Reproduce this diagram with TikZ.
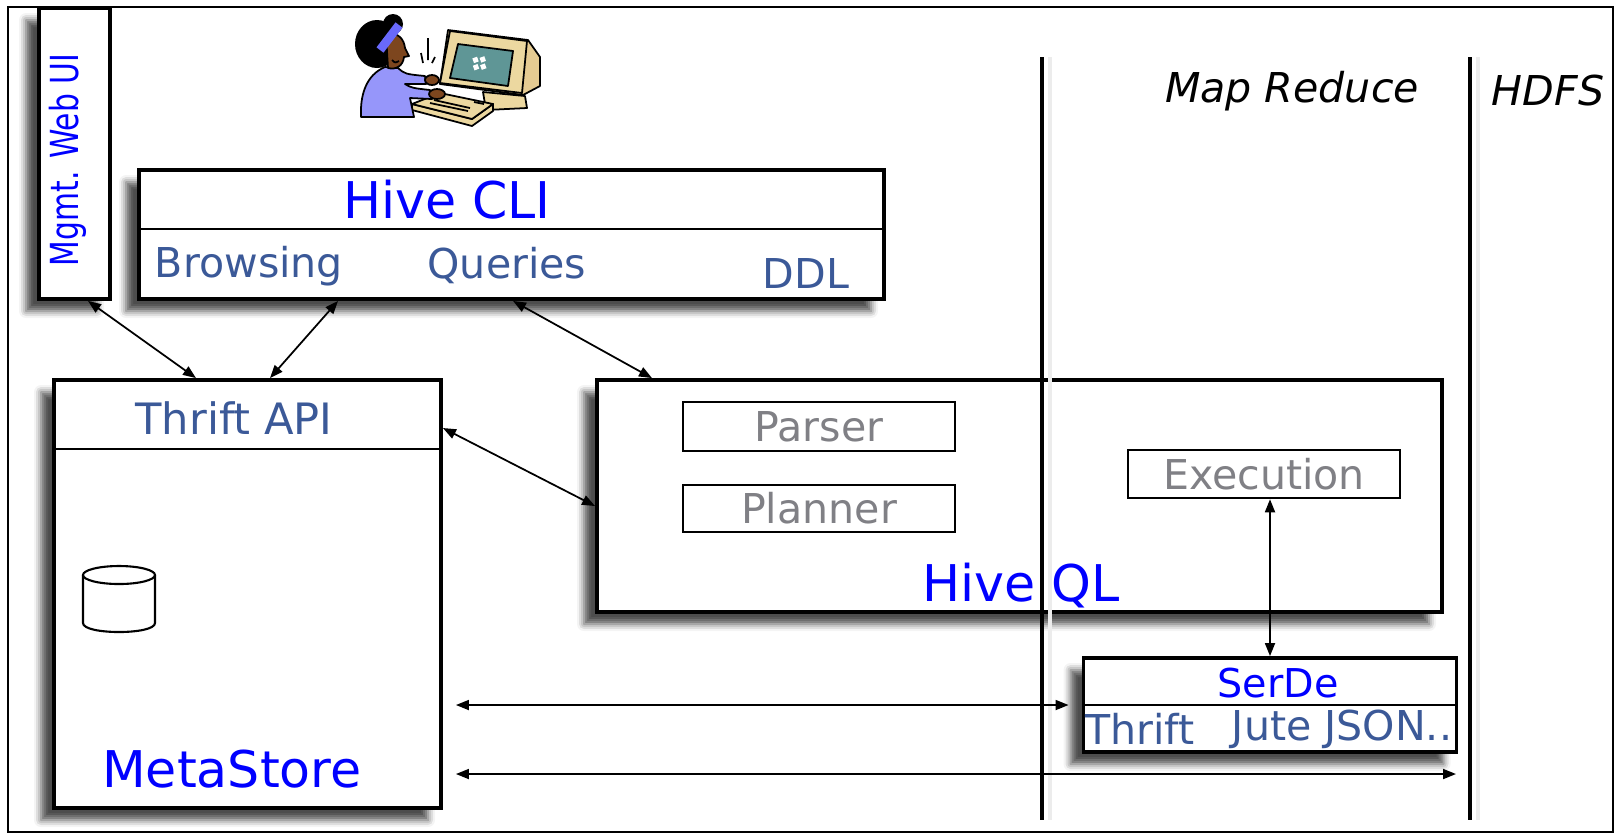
\documentclass[tikz,border=0pt]{standalone}
\usepackage{fontspec}
\setmainfont{DejaVu Sans}
\usetikzlibrary{arrows.meta, positioning, shadows.blur}

\definecolor{titleblue}{RGB}{0,0,255}
\definecolor{slateblue}{RGB}{59,89,152}
\definecolor{partgray}{RGB}{128,128,133}
\definecolor{skin}{RGB}{125,70,30}
\definecolor{shirt}{RGB}{150,150,250}
\definecolor{beige}{RGB}{236,216,160}
\definecolor{screen}{RGB}{95,150,150}

\begin{document}
\begin{tikzpicture}[x=0.1mm, y=-0.1mm,
    box/.style={draw, line width=1.1pt, fill=white, inner sep=0pt,
        blur shadow={shadow xshift=-1.3mm, shadow yshift=-1.2mm,
            shadow blur radius=0.7mm, shadow opacity=70}},
    part/.style={draw, line width=0.7pt, fill=white, inner sep=0pt,
        minimum width=27.2mm, text=partgray,
        font=\fontsize{11.7}{14}\selectfont},
    title/.style={text=titleblue, font=\fontsize{14.4}{17}\selectfont},
    sub/.style={text=slateblue, font=\fontsize{11.7}{14}\selectfont},
    layer/.style={font=\itshape\fontsize{11.7}{14}\selectfont},
    link/.style={{Triangle[length=1.3mm,width=1mm]}-{Triangle[length=1.3mm,width=1mm]},
        line width=0.5pt},
    sep/.style={line width=1.3pt},
    divider/.style={line width=0.6pt}]
    \useasboundingbox (0,0) rectangle (1618,835);

    % Outer frame
    \draw[line width=0.6pt] (8,7) rectangle (1613,832);

    % Person at the terminal
    \begin{scope}[line width=0.5pt, line join=round]
        % monitor
        \draw[fill=beige!85!brown] (448,30) -- (528,40) -- (540,57) -- (540,86) -- (523,95) -- (440,84) -- cycle;
        \draw[fill=beige] (483,92) -- (525,96) -- (527,108) -- (486,110) -- cycle;
        \draw[fill=beige] (450,31) -- (527,41) -- (522,93) -- (440,83) -- cycle;
        \draw[fill=screen] (458,44) -- (513,51) -- (508,86) -- (450,78) -- cycle;
        \foreach \dx/\dy in {0/0, 7/2, -2/7, 5/9}
            \fill[white, rotate around={20:(480,62)}] (474+\dx,56+\dy) rectangle +(5,5);
        % keyboard
        \draw[fill=beige] (412,104) -- (412,110) -- (472,126) -- (493,111) -- (493,104) -- (472,119) -- cycle;
        \draw[fill=beige] (412,104) -- (440,93) -- (493,104) -- (472,119) -- cycle;
        \draw (430,103) -- (468,111) (434,100) -- (470,108) (474,102) -- (484,104);
        % typing strokes
        \draw (421,53) -- (423,63) (428,38) -- (428,60) (435,57) -- (432,63);
        % body and arms
        \draw[fill=shirt] (361,117) .. controls (360,95) and (366,75) .. (385,67)
            -- (398,68) .. controls (405,74) .. (425,76) -- (426,84) -- (405,84)
            .. controls (412,88) .. (430,90) -- (432,99) -- (410,98)
            .. controls (412,108) .. (414,117) -- cycle;
        \draw[fill=skin] (432,80) ellipse (7 and 5);
        \draw[fill=skin] (437,94) ellipse (8 and 5);
        % head
        \fill (377,44) ellipse (22 and 24);
        \fill (393,24) circle (10);
        \draw[fill=skin] (386,35) .. controls (399,31) and (404,40) .. (405,48)
            -- (409,56) -- (404,57) .. controls (403,66) and (396,70) .. (388,68) -- cycle;
        \draw[shirt!70!blue, line width=2.5pt] (380,50) -- (399,25);
        \draw (392,60) .. controls (395,63) .. (399,61);
    \end{scope}

    % Management web UI
    \node[box, minimum width=7.1mm, minimum height=29.1mm] (webui) at (74.5,153.5) {};
    \node[title, rotate=90, font=\fontsize{11}{13}\selectfont] (webuitext) at (68,160)
        {\scalebox{0.77}[1]{Mgmt. Web UI}};

    % Hive CLI
    \node[box, minimum width=74.5mm, minimum height=12.9mm] (cli) at (511.5,234.5) {};
    \draw[divider] (cli.west |- 0,229) -- (cli.east |- 0,229);
    \node[title] (clitext) at (447,200) {Hive CLI};
    \node[sub] (browsing) at (249,266) {Browsing};
    \node[sub] (queries) at (507,266) {Queries};
    \node[sub] (ddl) at (806,273) {DDL};

    % MetaStore with its Thrift API
    \node[box, minimum width=38.7mm, minimum height=42.8mm] (meta) at (247.5,594) {};
    \draw[divider] (meta.west |- 0,449) -- (meta.east |- 0,449);
    \node[sub, font=\fontsize{12.3}{15}\selectfont] (thrift) at (234,418) {Thrift API};
    \node[title] (metastore) at (232,769) {MetaStore};
    % database
    \draw[line width=0.6pt, fill=white] (83,575) -- (83,623)
        .. controls (83,635) and (155,635) .. (155,623) -- (155,575);
    \draw[line width=0.6pt] (119,575) ellipse (36 and 9);

    % Hive QL
    \node[box, minimum width=84.5mm, minimum height=23.2mm] (hiveql) at (1019.5,496) {};
    \node[part, minimum height=4.9mm] (parser) at (819,426.5) {Parser};
    \node[part, minimum height=4.7mm] (planner) at (819,508.5) {Planner};
    \node[part, minimum height=4.8mm] (exec) at (1264,474) {Execution};
    \node[title] (qltext) at (1021,586) {Hive QL};

    % SerDe
    \node[box, minimum width=37.3mm, minimum height=9.4mm] (serde) at (1270,705) {};
    \draw[divider] (serde.west) -- (serde.east);
    \node[title, font=\fontsize{11.3}{14}\selectfont] (serdetext) at (1278,683) {SerDe};
    \node[sub] (thriftser) at (1140,729) {Thrift};
    \node[sub] (jute) at (1342,729) {Jute JSON..};

    % Map Reduce and HDFS layers
    \coordinate (mrtop) at (1042,57);
    \coordinate (mrbot) at (1042,820);
    \coordinate (hdfstop) at (1470,57);
    \coordinate (hdfsbot) at (1470,820);
    \draw[gray!15, line width=1.2pt] ([xshift=0.8mm]mrtop) -- ([xshift=0.8mm]mrbot);
    \draw[gray!15, line width=1.2pt] ([xshift=0.8mm]hdfstop) -- ([xshift=0.8mm]hdfsbot);
    \draw[sep] (mrtop) -- (mrbot);
    \draw[sep] (hdfstop) -- (hdfsbot);
    \node[layer] (mr) at (1292,91) {Map Reduce};
    \node[layer] (hdfs) at (1548,91) {HDFS};

    % Connectors
    \draw[link] ([xshift=1.35mm]webui.south) -- ([xshift=-5.15mm]meta.north);
    \draw[link] ([xshift=-17.35mm]cli.south) -- ([xshift=2.25mm]meta.north);
    \draw[link] ([xshift=0.15mm]cli.south) -- ([xshift=-36.75mm]hiveql.north);
    \draw[link] ([yshift=16.6mm]meta.east) -- ([yshift=-1mm]hiveql.west);
    \draw[link] (exec.south -| serde.north) -- (serde.north);
    \draw[link, shorten <=1.3mm, shorten >=1.3mm] (meta.east |- serde.west) -- (serde.west);
    \coordinate (hdfsin) at (hdfsbot |- 0,774);
    \draw[link, shorten <=1.3mm, shorten >=1.4mm] (meta.east |- hdfsin) -- (hdfsin);
\end{tikzpicture}
\end{document}
